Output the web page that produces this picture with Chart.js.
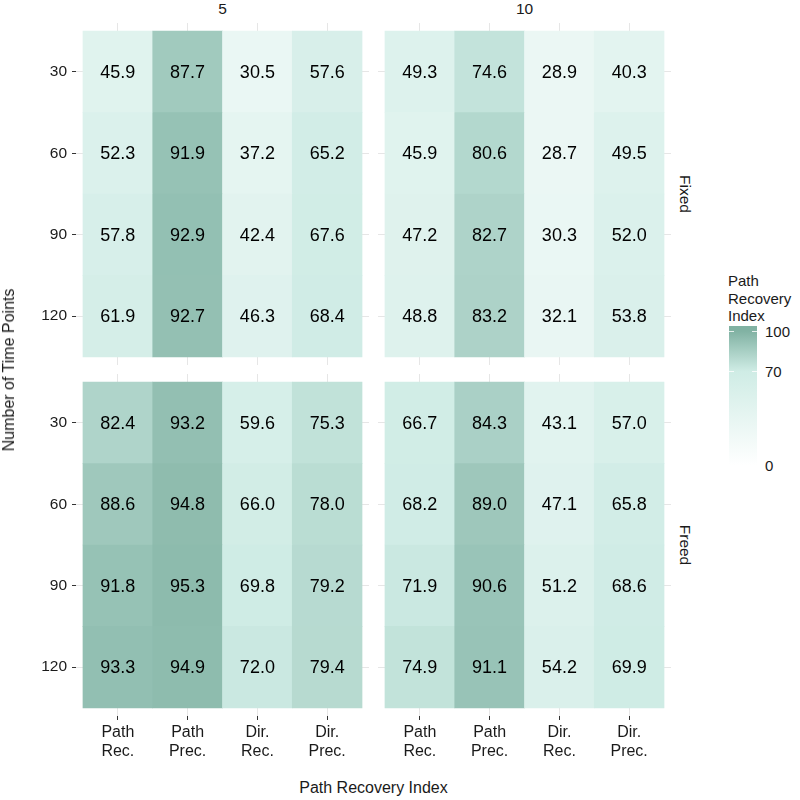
<!DOCTYPE html>
<html>
<head>
<meta charset="utf-8">
<script src="https://cdn.jsdelivr.net/npm/chart.js@4.4.0/dist/chart.umd.min.js"></script>
<style>
  body { margin: 0; background: #fff; font-family: "Liberation Sans", Arial, sans-serif; }
  #wrap { position: relative; width: 800px; height: 800px; }
  canvas { position: absolute; }
  .txt { position: absolute; color: #1a1a1a; white-space: nowrap; line-height: 1; }
  .mid { transform: translate(-50%, -50%); }
</style>
</head>
<body>
<div id="wrap">
  <canvas id="fixed5" width="369" height="342" style="left:0;top:23px"></canvas>
  <canvas id="fixed10" width="293" height="342" style="left:378px;top:23px"></canvas>
  <canvas id="freed5" width="369" height="392" style="left:0;top:374px"></canvas>
  <canvas id="freed10" width="293" height="392" style="left:378px;top:374px"></canvas>

  <div class="txt mid" id="strip0" style="left:222.5px;top:9px;font-size:15.5px"></div>
  <div class="txt mid" id="strip1" style="left:524.5px;top:9px;font-size:15.5px"></div>
  <div class="txt" id="strip2" style="left:685px;top:194px;font-size:15.5px;transform:translate(-50%,-50%) rotate(90deg)"></div>
  <div class="txt" id="strip3" style="left:685px;top:545px;font-size:15.5px;transform:translate(-50%,-50%) rotate(90deg)"></div>

  <div class="txt" style="left:9px;top:369.5px;font-size:16px;transform:translate(-50%,-50%) rotate(-90deg)">Number of Time Points</div>
  <div class="txt mid" style="left:373.5px;top:788px;font-size:16px">Path Recovery Index</div>

  <div class="txt" style="left:728px;top:272px;font-size:15px;line-height:17.5px">Path<br>Recovery<br>Index</div>
  <div id="bar" style="position:absolute;left:729px;top:326px;width:28px;height:140px"></div>
  <div id="legendTicks"></div>
</div>

<script>
// facettes
const spacings = ['5', '10'];
const regimes = ['Fixed', 'Freed'];
// axes
const timePoints = ['30', '60', '90', '120'];
const indexLabels = [['Path', 'Rec.'], ['Path', 'Prec.'], ['Dir.', 'Rec.'], ['Dir.', 'Prec.']];

// valeurs : une ligne par nombre de points, colonnes = indices
const fixed5 = [
  [45.9, 87.7, 30.5, 57.6],
  [52.3, 91.9, 37.2, 65.2],
  [57.8, 92.9, 42.4, 67.6],
  [61.9, 92.7, 46.3, 68.4]
];
const fixed10 = [
  [49.3, 74.6, 28.9, 40.3],
  [45.9, 80.6, 28.7, 49.5],
  [47.2, 82.7, 30.3, 52.0],
  [48.8, 83.2, 32.1, 53.8]
];
const freed5 = [
  [82.4, 93.2, 59.6, 75.3],
  [88.6, 94.8, 66.0, 78.0],
  [91.8, 95.3, 69.8, 79.2],
  [93.3, 94.9, 72.0, 79.4]
];
const freed10 = [
  [66.7, 84.3, 43.1, 57.0],
  [68.2, 89.0, 47.1, 65.8],
  [71.9, 90.6, 51.2, 68.6],
  [74.9, 91.1, 54.2, 69.9]
];

// échelle de couleur
const legendTicks = [0, 70, 100];
const gradStops = [0, 70, 100];
const gradColors = [[255, 255, 255], [207, 236, 229], [129, 178, 163]];

function fillColor(v) {
  let i = 0;
  while (i < gradStops.length - 2 && v > gradStops[i + 1]) i++;
  const t = Math.max(0, Math.min(1, (v - gradStops[i]) / (gradStops[i + 1] - gradStops[i])));
  const a = gradColors[i], b = gradColors[i + 1];
  const c = a.map((x, k) => Math.round(x + (b[k] - x) * t));
  return 'rgb(' + c.join(',') + ')';
}

function cellData(rows) {
  const pts = [];
  rows.forEach((row, r) => {
    row.forEach((v, c) => pts.push({ x: c + 1, y: [r + 0.5, r + 1.5], v: v }));
  });
  return pts;
}

// texte dans chaque case
const cellText = {
  id: 'cellText',
  afterDatasetsDraw(chart) {
    const ctx = chart.ctx;
    const ds = chart.data.datasets[0];
    ctx.save();
    ctx.font = '18px "Liberation Sans", Arial, sans-serif';
    ctx.fillStyle = '#000';
    ctx.textAlign = 'center';
    ctx.textBaseline = 'middle';
    chart.getDatasetMeta(0).data.forEach((bar, i) => {
      const p = bar.getCenterPoint();
      ctx.fillText(ds.data[i].v.toFixed(1), p.x, p.y + 1);
    });
    ctx.restore();
  }
};

function setTicks(scale) {
  scale.ticks = timePoints.map((_, i) => ({ value: i + 1 }));
}

function makePanel(id, rows, showY, showX) {
  new Chart(document.getElementById(id), {
    type: 'bar',
    data: {
      datasets: [{
        data: cellData(rows),
        backgroundColor: c => fillColor(c.raw.v),
        borderWidth: 0,
        barPercentage: 1,
        categoryPercentage: 1
      }]
    },
    options: {
      responsive: false,
      animation: false,
      devicePixelRatio: 1,
      layout: { padding: 0 },
      plugins: { legend: { display: false }, tooltip: { enabled: false } },
      scales: {
        x: {
          type: 'linear',
          min: 0.4,
          max: 4.6,
          offset: false,
          afterBuildTicks: setTicks,
          afterFit: s => {
            s.height = showX ? 50 : 0;
            s.paddingLeft = 0; s.paddingRight = 0;
          },
          grid: { offset: false, color: '#e6e6e6', tickColor: '#333', drawTicks: showX, tickLength: 4 },
          border: { display: false },
          ticks: {
            display: showX,
            autoSkip: false,
            maxRotation: 0,
            padding: 3,
            color: '#1a1a1a',
            font: { family: '"Liberation Sans", Arial, sans-serif', size: 16 },
            callback: v => indexLabels[v - 1]
          }
        },
        y: {
          type: 'linear',
          reverse: true,
          min: 0.4,
          max: 4.6,
          beginAtZero: false,
          afterBuildTicks: setTicks,
          afterFit: s => {
            s.width = showY ? 76 : 0;
            s.paddingTop = 0; s.paddingBottom = 0;
          },
          grid: { color: '#e6e6e6', tickColor: '#333', drawTicks: showY, tickLength: 4 },
          border: { display: false },
          ticks: {
            display: showY,
            padding: 5,
            color: '#1a1a1a',
            font: { family: '"Liberation Sans", Arial, sans-serif', size: 15.5 },
            callback: v => timePoints[v - 1]
          }
        }
      }
    },
    plugins: [cellText]
  });
}

makePanel('fixed5', fixed5, true, false);
makePanel('fixed10', fixed10, false, false);
makePanel('freed5', freed5, true, true);
makePanel('freed10', freed10, false, true);

// étiquettes des facettes
document.getElementById('strip0').textContent = spacings[0];
document.getElementById('strip1').textContent = spacings[1];
document.getElementById('strip2').textContent = regimes[0];
document.getElementById('strip3').textContent = regimes[1];

// barre de couleur de la légende (100 -> y 331, 0 -> y 465)
const barTop = 326, barH = 140;
const valToY = v => 465 - v * 1.34;
const stops = gradStops.slice().reverse().map(v => fillColor(v) + ' ' + ((valToY(v) - barTop) / barH * 100).toFixed(1) + '%');
document.getElementById('bar').style.background = 'linear-gradient(to bottom, ' + stops.join(', ') + ')';

const lt = document.getElementById('legendTicks');
legendTicks.forEach(v => {
  const y = valToY(v);
  const lab = document.createElement('div');
  lab.className = 'txt';
  lab.style.cssText = 'left:765px;top:' + y + 'px;font-size:15px;transform:translateY(-50%)';
  lab.textContent = v;
  lt.appendChild(lab);
  if (v > 0) {
    [729, 752].forEach(x => {
      const t = document.createElement('div');
      t.style.cssText = 'position:absolute;left:' + x + 'px;top:' + (y - 0.5) + 'px;width:5px;height:1px;background:rgba(255,255,255,0.8)';
      lt.appendChild(t);
    });
  }
});
</script>
</body>
</html>
